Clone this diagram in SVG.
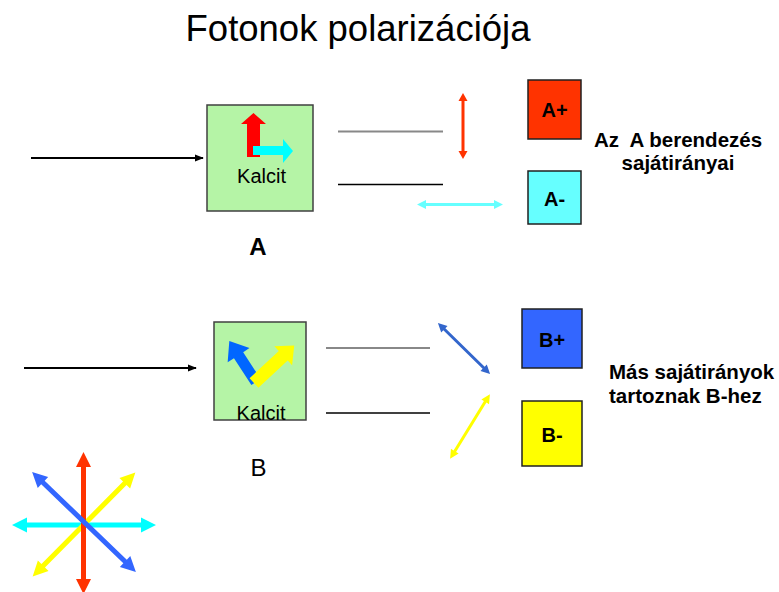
<svg xmlns="http://www.w3.org/2000/svg" width="779" height="592" viewBox="0 0 779 592">
  <style>
    text { font-family: "Liberation Sans", Arial, sans-serif; fill: #000; }
    .title { font-size: 36.5px; text-anchor: middle; }
    .lbl { font-size: 20px; text-anchor: middle; }
    .bold { font-weight: bold; }
    .note { font-size: 20.5px; font-weight: bold; }
    .calcite { fill: #b5f4a6; stroke: #404040; stroke-width: 1.5; }
    .out { stroke: #202020; stroke-width: 1.5; }
    .beam { stroke: #000; stroke-width: 2; fill: none; }
    .path-up { stroke: #888; stroke-width: 2; }
    .path-dn { stroke: #000; stroke-width: 1.5; }
  </style>
  <defs>
    <marker id="tip" viewBox="0 0 10 10" refX="9" refY="5" markerWidth="9" markerHeight="9" markerUnits="userSpaceOnUse" orient="auto">
      <path d="M0,1 L10,5 L0,9 z" fill="#000"/>
    </marker>
  </defs>

  <text class="title" x="358" y="41">Fotonok polarizációja</text>

  <!-- incoming beams and split paths -->
  <g id="connectors">
    <line class="beam" x1="31" y1="158" x2="203" y2="158" marker-end="url(#tip)"/>
    <line class="beam" x1="24" y1="368" x2="196" y2="368" marker-end="url(#tip)"/>
    <line class="path-up" x1="338" y1="131.5" x2="443" y2="131.5"/>
    <line class="path-dn" x1="338" y1="184.5" x2="443" y2="184.5"/>
    <line class="path-up" x1="326" y1="348" x2="430" y2="348"/>
    <line class="path-dn" x1="326" y1="413" x2="430" y2="413"/>
  </g>

  <!-- calcite crystal A -->
  <g id="calcite-a">
    <rect class="calcite" x="207" y="105" width="106" height="106"/>
    <polygon fill="#ff0000" points="247,157 247,124 241,124 253.5,113 266,124 260,124 260,157"/>
    <polygon fill="#00ffff" points="253,146 283,146 283,139 293,151 283,163 283,155 253,155"/>
    <text class="lbl" x="261.5" y="183">Kalcit</text>
  </g>
  <text class="bold" x="258" y="255" font-size="24" text-anchor="middle">A</text>

  <!-- calcite crystal B -->
  <g id="calcite-b">
    <rect class="calcite" x="214" y="322" width="92" height="98"/>
    <g transform="translate(256,382) rotate(-123)">
      <polygon fill="#0066ff" points="0,-5.5 32,-5.5 32,-13 49,0 32,13 32,5.5 0,5.5"/>
    </g>
    <g transform="translate(254,383) rotate(-43)">
      <polygon fill="#ffff00" points="0,-6.5 40,-6.5 40,-13 55,0 40,13 40,6.5 0,6.5"/>
    </g>
    <text class="lbl" x="261" y="420">Kalcit</text>
  </g>
  <text x="258.5" y="476" font-size="24" text-anchor="middle">B</text>

  <!-- eigen-directions of A -->
  <g id="dir-a-plus" transform="translate(463,126) rotate(90)">
    <polygon fill="#ff3300" points="-33,0 -25,-4.5 -25,-1.5 25,-1.5 25,-4.5 33,0 25,4.5 25,1.5 -25,1.5 -25,4.5"/>
  </g>
  <g id="dir-a-minus" transform="translate(460,204.5)">
    <polygon fill="#66ffff" points="-43,0 -34,-4.5 -34,-1.5 34,-1.5 34,-4.5 43,0 34,4.5 34,1.5 -34,1.5 -34,4.5"/>
  </g>

  <!-- eigen-directions of B -->
  <g id="dir-b-plus" transform="translate(464,348.5) rotate(44.4)">
    <polygon fill="#3366cc" points="-36.5,0 -27.5,-4.5 -27.5,-1.5 27.5,-1.5 27.5,-4.5 36.5,0 27.5,4.5 27.5,1.5 -27.5,1.5 -27.5,4.5"/>
  </g>
  <g id="dir-b-minus" transform="translate(470,426.5) rotate(121.6)">
    <polygon fill="#ffff00" points="-38,0 -29,-4.5 -29,-1.5 29,-1.5 29,-4.5 38,0 29,4.5 29,1.5 -29,1.5 -29,4.5"/>
  </g>

  <!-- output detectors -->
  <g id="a-plus">
    <rect class="out" x="528" y="80" width="53" height="59" fill="#ff3300"/>
    <text class="lbl bold" x="554.5" y="117">A+</text>
  </g>
  <g id="a-minus">
    <rect class="out" x="528" y="171" width="53" height="53" fill="#66ffff"/>
    <text class="lbl bold" x="554.5" y="206">A-</text>
  </g>
  <g id="b-plus">
    <rect class="out" x="522" y="309" width="60" height="59" fill="#3366ff"/>
    <text class="lbl bold" x="552" y="347">B+</text>
  </g>
  <g id="b-minus">
    <rect class="out" x="522" y="401" width="60" height="65" fill="#ffff00"/>
    <text class="lbl bold" x="552" y="442">B-</text>
  </g>

  <text class="note" x="678" y="146.5" text-anchor="middle" xml:space="preserve">Az  A berendezés</text>
  <text class="note" x="678" y="170" text-anchor="middle">sajátirányai</text>
  <text class="note" x="609" y="379">Más sajátirányok</text>
  <text class="note" x="609" y="403">tartoznak B-hez</text>

  <!-- polarization star -->
  <g id="star">
    <g transform="translate(84,525)">
      <polygon fill="#00ffff" points="-72,0 -57,-7.5 -57,-2.5 57,-2.5 57,-7.5 72,0 57,7.5 57,2.5 -57,2.5 -57,7.5"/>
    </g>
    <g transform="translate(84,524.5) rotate(-45.3)">
      <polygon fill="#ffff00" points="-73,0 -58,-7.5 -58,-2.5 58,-2.5 58,-7.5 73,0 58,7.5 58,2.5 -58,2.5 -58,7.5"/>
    </g>
    <g transform="translate(83.5,523) rotate(90)">
      <polygon fill="#ff3300" points="-71,0 -56,-7.5 -56,-2.5 56,-2.5 56,-7.5 71,0 56,7.5 56,2.5 -56,2.5 -56,7.5"/>
    </g>
    <g transform="translate(84,522) rotate(43.9)">
      <polygon fill="#3366ff" points="-72,0 -57,-7.5 -57,-2.5 57,-2.5 57,-7.5 72,0 57,7.5 57,2.5 -57,2.5 -57,7.5"/>
    </g>
  </g>
</svg>
